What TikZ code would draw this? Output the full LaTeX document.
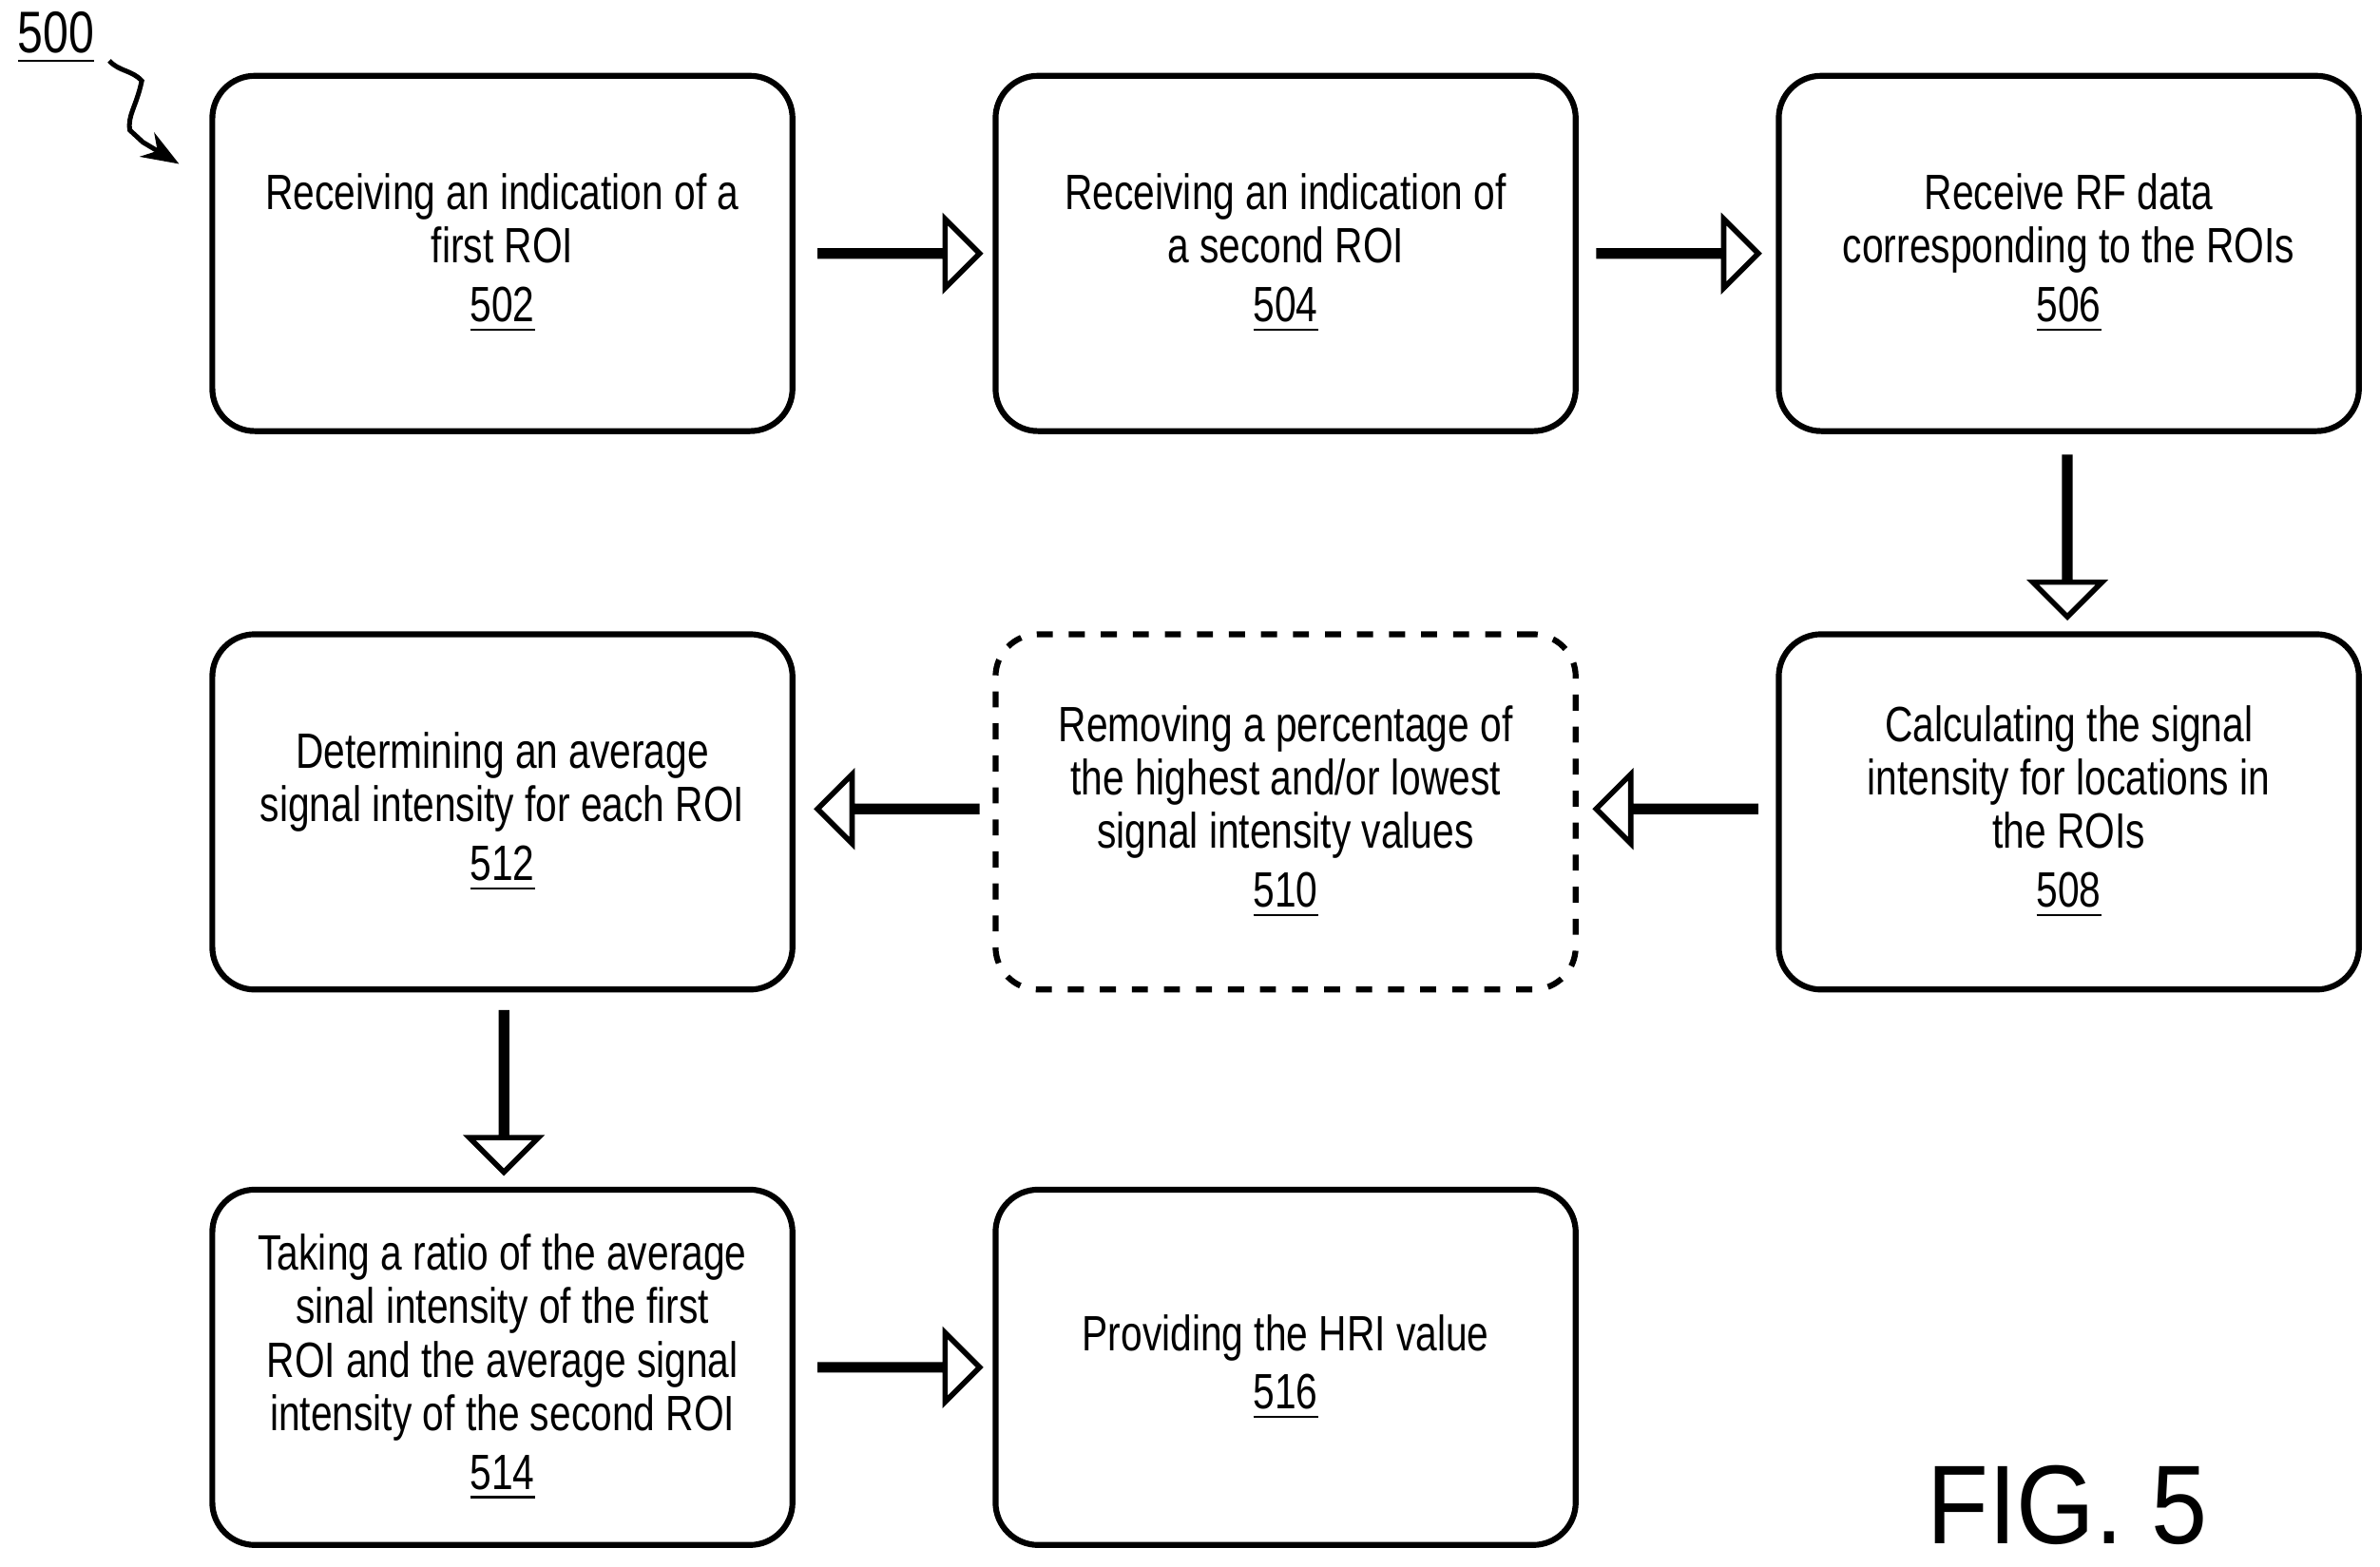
\documentclass[tikz,border=0pt]{standalone}
\usepackage{fontspec}
\setmainfont{Liberation Sans}[FakeStretch=0.78]
\usetikzlibrary{shapes.arrows,decorations.pathmorphing,arrows.meta}
\begin{document}
\begin{tikzpicture}[x=0.01cm,y=-0.01cm,
  box/.style={draw,line width=1.1pt,rounded corners=0.28cm,minimum width=3.82cm,minimum height=2.34cm,align=center,font=\fontsize{9.3}{10}\selectfont,inner sep=0},
  barrow/.style={draw,line width=1pt,single arrow,minimum height=1.05cm,minimum width=0.36cm,single arrow head extend=0.21cm,single arrow tip angle=90,inner sep=0}]
\useasboundingbox (0,0) rectangle (1568,1032);
\node[box] (b502) at (331,167) {Receiving an indication of a\\first ROI\\[1pt]\underline{502}};
\node[box] (b504) at (847,167) {Receiving an indication of\\a second ROI\\[1pt]\underline{504}};
\node[box] (b506) at (1363,167) {Receive RF data\\corresponding to the ROIs\\[1pt]\underline{506}};
\node[box] (b508) at (1363,535) {Calculating the signal\\intensity for locations in\\the ROIs\\[1pt]\underline{508}};
\node[box,dashed] (b510) at (847,535) {Removing a percentage of\\the highest and/or lowest\\signal intensity values\\[1pt]\underline{510}};
\node[box] (b512) at (331,535) {Determining an average\\signal intensity for each ROI\\[1pt]\underline{512}};
\node[box] (b514) at (331,901) {Taking a ratio of the average\\sinal intensity of the first\\ROI and the average signal\\intensity of the second ROI\\[1pt]\underline{514}};
\node[box] (b516) at (847,901) {Providing the HRI value\\[1pt]\underline{516}};
\node[barrow] (a1) at (592,167) {};
\node[barrow] (a2) at (1105,167) {};
\node[barrow,shape border rotate=270] (a3) at (1362,353) {};
\node[barrow,shape border rotate=180] (a4) at (1105,533) {};
\node[barrow,shape border rotate=180] (a5) at (592,533) {};
\node[barrow,shape border rotate=270] (a6) at (332,719) {};
\node[barrow] (a7) at (592,901) {};
\node[font=\fontsize{11}{12}\selectfont] (l500) at (37,25) {\underline{500}};
\coordinate (t500) at (118,108);
\draw[line width=0.9pt,-{Stealth[length=7pt]},decorate,decoration={snake,amplitude=2pt,segment length=22pt,post length=8pt}] (72,40) .. controls (90,60) and (70,90) .. (t500);
\node[font=\fontsize{21}{24}\selectfont\addfontfeature{FakeStretch=0.9}] (fig) at (1362,992) {FIG. 5};
\end{tikzpicture}
\end{document}
